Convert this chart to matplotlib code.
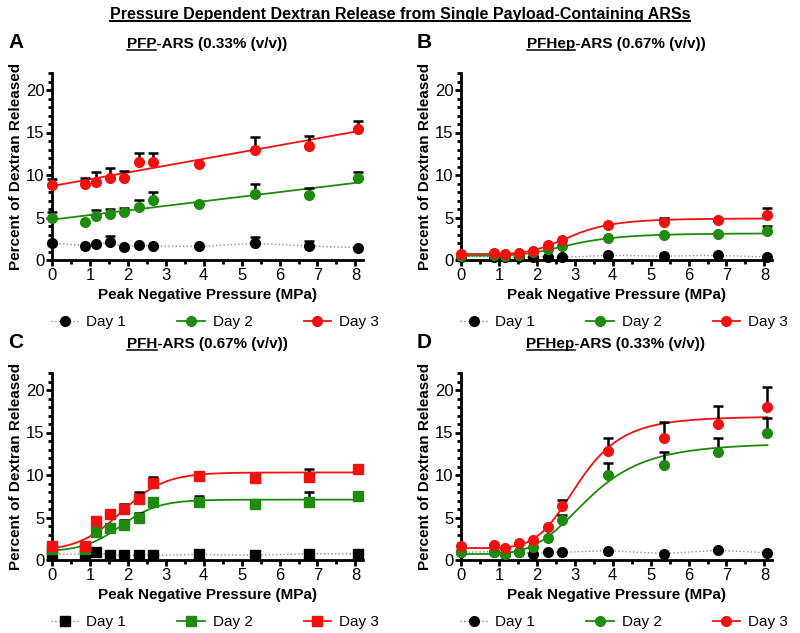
import numpy as np
import matplotlib
matplotlib.use("Agg")
import matplotlib.pyplot as plt
from matplotlib.lines import Line2D
from matplotlib.ticker import MultipleLocator

plt.rcParams['font.family'] = ['Liberation Sans', 'DejaVu Sans']

# peak negative pressure (MPa), shared by all panels
pressure = [0, 0.88, 1.15, 1.53, 1.91, 2.30, 2.66, 3.87, 5.35, 6.77, 8.08]

# panel A: PFP-ARS 0.33%
a_day1 = [2.0, 1.7, 1.85, 2.1, 1.5, 1.8, 1.6, 1.6, 1.95, 1.65, 1.45]
a_day1_err = [0, 0, 0, 0.7, 0, 0, 0, 0, 0.7, 0.55, 0]
a_day2 = [5.0, 4.5, 5.15, 5.4, 5.6, 6.2, 7.1, 6.6, 7.8, 7.7, 9.6]
a_day2_err = [0.7, 0, 0.75, 0.6, 0.5, 0.9, 0.9, 0, 1.2, 0.8, 0.7]
a_day3 = [8.8, 8.9, 9.2, 9.6, 9.65, 11.5, 11.5, 11.3, 12.9, 13.4, 15.4]
a_day3_err = [0.7, 0.75, 1.1, 1.25, 0.8, 1.1, 1.1, 0, 1.6, 1.2, 0.9]

# panel B: PFHep-ARS 0.67%
b_day1 = [0.4, 0.4, 0.35, 0.35, 0.3, 0.4, 0.3, 0.55, 0.45, 0.55, 0.35]
b_day1_err = [0] * 11
b_day2 = [0.5, 0.6, 0.5, 0.6, 0.9, 1.3, 1.6, 2.6, 2.9, 3.05, 3.4]
b_day2_err = [0, 0, 0, 0, 0, 0, 0, 0, 0, 0, 0.6]
b_day3 = [0.7, 0.8, 0.7, 0.8, 1.1, 1.8, 2.4, 4.15, 4.45, 4.7, 5.3]
b_day3_err = [0, 0, 0, 0, 0, 0, 0, 0, 0.55, 0, 0.85]

# panel C: PFH-ARS 0.67%
c_day1 = [0.7, 0.7, 0.9, 0.55, 0.55, 0.6, 0.55, 0.65, 0.55, 0.75, 0.7]
c_day1_err = [0] * 11
c_day2 = [1.3, 1.3, 3.25, 3.8, 4.1, 4.9, 6.8, 6.85, 6.6, 6.85, 7.55]
c_day2_err = [0, 0, 0, 0, 0.55, 0.65, 0, 0.7, 0, 1.15, 0]
c_day3 = [1.6, 1.6, 4.6, 5.4, 6.0, 7.2, 9.1, 9.9, 9.7, 9.8, 10.7]
c_day3_err = [0, 0, 0, 0, 0.55, 0.75, 0.65, 0.5, 0.4, 0.9, 0]

# panel D: PFHep-ARS 0.33%
d_day1 = [0.9, 1.0, 0.7, 1.0, 0.7, 0.95, 0.9, 1.1, 0.75, 1.15, 0.85]
d_day1_err = [0] * 11
d_day2 = [1.0, 1.0, 0.7, 1.0, 1.5, 2.6, 4.75, 10.05, 11.2, 12.7, 14.9]
d_day2_err = [0, 0, 0, 0, 0, 0, 0.6, 1.35, 1.5, 1.7, 1.85]
d_day3 = [1.65, 1.8, 1.4, 1.95, 2.4, 3.9, 6.35, 12.85, 14.3, 16.0, 18.05]
d_day3_err = [0, 0, 0, 0, 0, 0, 0.7, 1.45, 1.9, 2.1, 2.25]

# fitted curve parameters
a_fit = {'day2': ('linear', 4.75, 0.54), 'day3': ('linear', 8.7, 0.80)}
b_fit = {'day2': ('hill', 0.5, 3.15, 2.92, 4.3), 'day3': ('hill', 0.7, 4.9, 2.90, 5.06)}
c_fit = {'day2': ('logistic', 0.95, 7.1, 1.82, 0.5), 'day3': ('logistic', 1.0, 10.3, 1.83, 0.575)}
d_fit = {'day2': ('hill', 0.7, 13.8, 3.37, 4.36), 'day3': ('hill', 1.4, 16.9, 3.11, 5.3)}

titles = [('PFP', '-ARS (0.33% (v/v))'), ('PFHep', '-ARS (0.67% (v/v))'),
          ('PFH', '-ARS (0.67% (v/v))'), ('PFHep', '-ARS (0.33% (v/v))')]
letters = ['A', 'B', 'C', 'D']
markers = ['o', 'o', 's', 'o']
day_labels = ['Day 1', 'Day 2', 'Day 3']
colors = ['black', '#1e8a0e', '#f21010']


def curve(model, x):
    kind = model[0]
    if kind == 'linear':
        return model[1] + model[2] * x
    if kind == 'hill':
        bottom, top, x50, h = model[1:]
        xs = np.maximum(x, 1e-6)
        return bottom + (top - bottom) / (1 + (x50 / xs) ** h)
    bottom, top, x50, s = model[1:]
    return bottom + (top - bottom) / (1 + np.exp((x50 - x) / s))


panels = [
    (a_day1, a_day1_err, a_day2, a_day2_err, a_day3, a_day3_err, a_fit),
    (b_day1, b_day1_err, b_day2, b_day2_err, b_day3, b_day3_err, b_fit),
    (c_day1, c_day1_err, c_day2, c_day2_err, c_day3, c_day3_err, c_fit),
    (d_day1, d_day1_err, d_day2, d_day2_err, d_day3, d_day3_err, d_fit),
]

W, H = 800, 633
fig = plt.figure(figsize=(W / 100, H / 100), dpi=100)

# axes boxes in pixels: left, y of zero line, right, top
boxes = [(52, 260, 363, 73), (461, 260, 772, 73), (52, 560, 363, 373), (461, 560, 772, 373)]

x = np.array(pressure)
xx = np.linspace(0, x[-1], 300)
title_texts = []
for i, (box, pan) in enumerate(zip(boxes, panels)):
    l, b, r, t = box
    ax = fig.add_axes([l / W, (H - b) / H, (r - l) / W, (b - t) / H])
    d1, e1, d2, e2, d3, e3, fits = pan
    mk = markers[i]

    # fit curves / connecting line
    ax.plot(x, d1, color='#8c8c8c', lw=1.0, ls=':', zorder=2)
    ax.plot(xx, curve(fits['day2'], xx), color=colors[1], lw=1.3, zorder=2)
    ax.plot(xx, curve(fits['day3'], xx), color=colors[2], lw=1.3, zorder=2)

    handles = []
    for j, (dd, ee) in enumerate([(d1, e1), (d2, e2), (d3, e3)]):
        dd = np.array(dd)
        ee = np.array(ee)
        m = ee > 0
        if m.any():
            ax.errorbar(x[m], dd[m], yerr=[np.zeros(m.sum()), ee[m]], fmt='none',
                        ecolor='black', elinewidth=1.8, capsize=3.4, capthick=1.8,
                        zorder=3, clip_on=False)
        ax.plot(x, dd, ls='none', marker=mk, ms=7, color=colors[j], zorder=4,
                clip_on=False)
        if j == 0:
            handles.append(Line2D([], [], color='#8c8c8c', ls=':', lw=1.0,
                                  marker=mk, ms=7, mfc='black', mec='black'))
        else:
            handles.append(Line2D([], [], color=colors[j], lw=1.3,
                                  marker=mk, ms=7, mfc=colors[j], mec=colors[j]))

    ax.set_xlim(0, 8.2)
    ax.set_ylim(0, 22)
    ax.xaxis.set_major_locator(MultipleLocator(1))
    ax.xaxis.set_minor_locator(MultipleLocator(0.5))
    ax.yaxis.set_major_locator(MultipleLocator(5))
    ax.yaxis.set_minor_locator(MultipleLocator(1))
    for sp in ['top', 'right']:
        ax.spines[sp].set_visible(False)
    for sp in ['left', 'bottom']:
        ax.spines[sp].set_linewidth(2.0)
    ax.tick_params(which='major', direction='out', length=4.5, width=2.0,
                   labelsize=12, pad=1)
    ax.tick_params(which='minor', direction='out', length=3, width=2.0)
    ax.set_xlabel('Peak Negative Pressure (MPa)', fontsize=11, fontweight='bold',
                  labelpad=4)
    ax.set_ylabel('Percent of Dextran Released', fontsize=11, fontweight='bold',
                  labelpad=2)

    leg = ax.legend(handles, day_labels, ncol=3, frameon=False, fontsize=11,
                    loc='center', bbox_to_anchor=((l + 163) / W, (H - b - 62) / H),
                    bbox_transform=fig.transFigure, handlelength=1.8,
                    handletextpad=0.5, columnspacing=3.35)

    # panel letter and title
    fig.text((l - 44) / W, (H - t + 30) / H, letters[i], fontsize=15,
             fontweight='bold', ha='left', va='center')
    pre, post = titles[i]
    tt = fig.text((l + 155) / W, (H - t + 29) / H, pre + post, fontsize=11,
                  fontweight='bold', ha='center', va='center')
    title_texts.append((tt, pre))

main = fig.text(0.5, (H - 14) / H,
                'Pressure Dependent Dextran Release from Single Payload-Containing ARSs',
                fontsize=11.5, fontweight='bold', ha='center', va='center')

# underlines
fig.canvas.draw()
rend = fig.canvas.get_renderer()
inv = fig.transFigure.inverted()


def underline(x0, x1, y, lw):
    p0 = inv.transform((x0, y))
    p1 = inv.transform((x1, y))
    fig.add_artist(Line2D([p0[0], p1[0]], [p0[1], p1[1]], color='black', lw=lw,
                          transform=fig.transFigure))


bb = main.get_window_extent(rend)
underline(bb.x0, bb.x1, bb.y0 + 1, 1.4)
for tt, pre in title_texts:
    bb = tt.get_window_extent(rend)
    tmp = fig.text(0, 0, pre, fontsize=11, fontweight='bold')
    wb = tmp.get_window_extent(rend)
    tmp.remove()
    underline(bb.x0, bb.x0 + wb.width, bb.y0 + 1, 1.1)

fig.savefig('out.png', dpi=100)
